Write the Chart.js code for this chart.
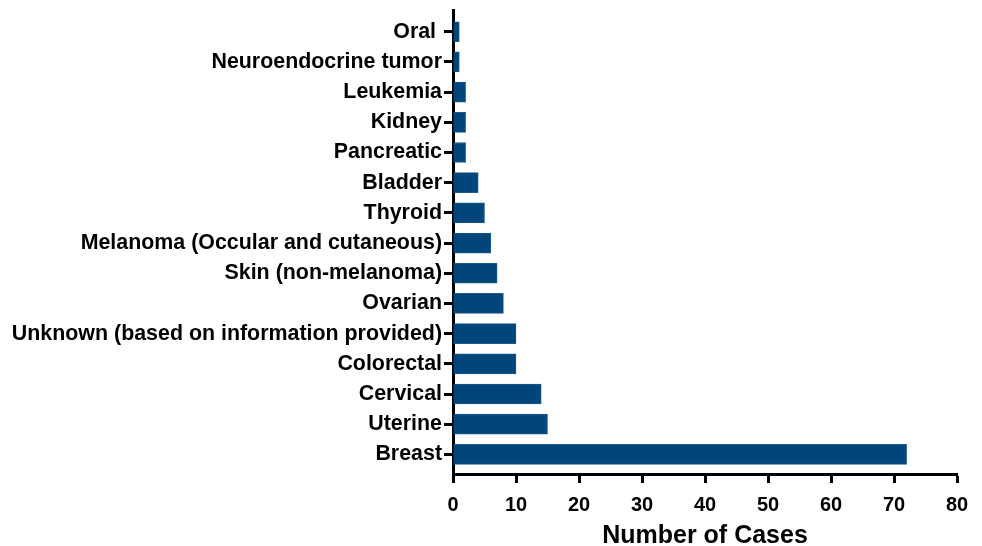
<!DOCTYPE html>
<html>
<head>
<meta charset="utf-8">
<script src="https://cdn.jsdelivr.net/npm/chart.js@4"></script>
<style>
  html, body { margin: 0; padding: 0; background: #fff; }
  #wrap { width: 982px; height: 546px; }
</style>
</head>
<body>
<div id="wrap"><canvas id="myChart" width="982" height="546"></canvas></div>
<script>
// cancer types, top to bottom as in the figure
const categories = [
    'Oral ', 'Neuroendocrine tumor', 'Leukemia', 'Kidney', 'Pancreatic',
    'Bladder', 'Thyroid', 'Melanoma (Occular and cutaneous)', 'Skin (non-melanoma)',
    'Ovarian', 'Unknown (based on information provided)', 'Colorectal',
    'Cervical', 'Uterine', 'Breast'
];
const caseCounts = [1, 1, 2, 2, 2, 4, 5, 6, 7, 8, 10, 10, 14, 15, 72];
const xMin = 0;
const xMax = 80;
const xStep = 10;
const xTitle = 'Number of Cases';

const font = 'Liberation Sans, Arial, sans-serif';

let ctx = document.getElementById('myChart').getContext('2d');
let myChart = new Chart(ctx, {
    type: 'bar',
    data: {
        labels: categories,
        datasets: [{
            data: caseCounts,
            backgroundColor: '#00467b',
            borderColor: '#1d5a8a',
            borderWidth: 1,
            barThickness: 20
        }]
    },
    options: {
        indexAxis: 'y',
        responsive: false,
        animation: false,
        layout: { padding: { top: 10, right: 25, bottom: 0, left: 0 } },
        plugins: { legend: { display: false }, tooltip: { enabled: false } },
        scales: {
            y: {
                offset: false,
                grid: { offset: false, drawOnChartArea: false, tickLength: 9, tickWidth: 3, tickColor: '#000' },
                border: { display: true, width: 3, color: '#000' },
                ticks: { color: '#000', padding: 2, font: { family: font, size: 21.4, weight: 'bold' } },
                // the axis line runs a bit past the first and last bar
                afterBuildTicks: function (scale) {
                    scale._startValue = -0.72;
                    scale._valueRange = 15.37;
                },
                afterFit: function (scale) {
                    scale.width = 453;
                    scale.paddingTop = 0;
                    scale.paddingBottom = 0;
                }
            },
            x: {
                min: xMin,
                max: xMax,
                grid: { drawOnChartArea: false, tickLength: 9, tickWidth: 3, tickColor: '#000' },
                border: { display: true, width: 3, color: '#000' },
                ticks: { stepSize: xStep, color: '#000', padding: 10, font: { family: font, size: 20, weight: 'bold' } },
                title: {
                    display: true,
                    text: xTitle,
                    color: '#000',
                    padding: { top: 6, bottom: 0 },
                    font: { family: font, size: 25, weight: 'bold', lineHeight: 0.8 }
                },
                afterFit: function (scale) { scale.height = 72; }
            }
        }
    }
});
</script>
</body>
</html>
